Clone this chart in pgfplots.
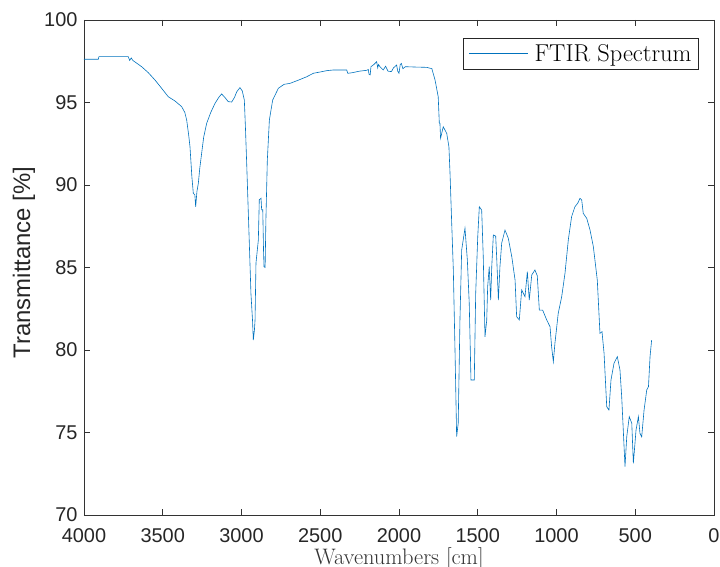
\documentclass[border=0pt]{standalone}
\usepackage{fontspec}
\newfontfamily\arial{Liberation Sans}
\usepackage{pgfplots}
\pgfplotsset{compat=1.18}
\definecolor{matblue}{rgb}{0,0.447,0.741}

\pgfplotstableread{
w T
4000 97.62
3909 97.62
3905 97.78
3719 97.78
3710 97.55
3700 97.70
3690 97.55
3634 97.17
3592 96.81
3549 96.36
3507 95.86
3465 95.35
3422 95.09
3380 94.75
3360 94.40
3348 93.94
3335 93.00
3327 92.32
3315 90.50
3306 89.50
3296 89.40
3291 88.68
3283 89.60
3274 90.10
3265 91.00
3253 91.92
3240 92.90
3221 93.74
3195 94.40
3168 94.95
3145 95.30
3126 95.52
3105 95.30
3084 95.05
3062 95.03
3045 95.30
3030 95.65
3010 95.90
2995 95.70
2982 95.15
2975 93.50
2967 91.31
2951 86.67
2940 83.43
2930 81.80
2925 80.60
2918 81.20
2914 81.80
2908 85.27
2893 86.67
2887 89.10
2876 89.20
2872 88.50
2865 88.50
2860 86.00
2857 85.05
2850 85.00
2845 87.90
2836 91.50
2823 93.94
2802 95.15
2766 95.86
2730 96.10
2692 96.16
2640 96.35
2586 96.56
2544 96.77
2500 96.85
2459 96.93
2417 96.97
2332 96.97
2325 96.77
2300 96.80
2250 96.90
2205 96.95
2195 97.00
2190 96.70
2183 96.67
2178 97.17
2160 97.30
2142 97.47
2135 97.10
2130 97.30
2121 97.17
2100 96.97
2085 97.20
2070 96.90
2048 96.87
2035 97.10
2015 97.27
2008 96.90
2000 96.77
1992 97.30
1985 97.37
1975 97.05
1960 97.17
1900 97.15
1824 97.13
1800 97.07
1792 97.07
1771 96.36
1751 95.35
1744 93.75
1740 93.74
1736 92.83
1719 93.53
1697 93.13
1683 92.32
1676 90.71
1666 87.88
1655 84.85
1644 79.80
1634 74.75
1624 75.56
1613 81.80
1602 86.06
1581 87.38
1566 85.45
1554 82.83
1543 78.18
1522 78.18
1513 83.43
1500 86.87
1490 88.68
1475 88.48
1465 85.66
1454 80.80
1443 81.80
1437 83.84
1427 85.05
1418 83.03
1411 85.05
1401 86.97
1386 86.90
1379 85.45
1369 83.03
1359 85.05
1348 86.47
1327 87.27
1306 86.77
1284 85.66
1263 84.24
1253 82.02
1236 81.82
1221 83.64
1200 83.23
1185 84.75
1173 83.03
1157 84.55
1137 84.85
1122 84.50
1109 82.42
1088 82.42
1062 81.82
1041 81.41
1031 80.20
1020 79.29
1010 80.40
989 82.22
967 83.23
946 84.65
925 86.67
904 88.08
883 88.68
865 88.90
851 89.19
840 89.10
830 88.28
808 87.98
787 87.27
766 86.26
741 84.24
724 81.01
711 81.11
698 79.80
681 76.56
667 76.36
654 78.18
635 79.19
614 79.60
597 78.79
586 77.17
576 75.15
565 72.93
554 74.74
538 75.96
522 75.56
512 73.13
495 75.15
480 75.96
470 74.95
459 74.74
444 76.36
427 77.58
416 77.78
406 79.60
396 80.60
}\ftir

\begin{document}
\begin{tikzpicture}
\begin{axis}[
  at={(0,0)}, anchor=south west,
  scale only axis,
  width=630bp, height=495bp,
  x dir=reverse,
  xmin=0, xmax=4000,
  ymin=70, ymax=100,
  xtick={0,500,...,4000},
  ytick={70,75,...,100},
  tick align=inside,
  major tick length=6bp,
  axis line style={black!80, line width=0.8bp},
  major tick style={black!80, line width=0.8bp},
  /pgf/number format/assume math mode=true,
  /pgf/number format/set thousands separator={},
  tick label style={font=\arial\fontsize{20}{20}\selectfont, text=black!85},
  xticklabel style={yshift=-11bp, inner sep=2bp},
  yticklabel style={xshift=-3bp},
  xlabel={Wavenumbers [cm]},
  xlabel style={at={(axis description cs:0.5,0)}, anchor=base, yshift=-49bp,
    inner sep=1bp, font=\fontsize{22.5}{22.5}\selectfont, text=black!80},
  ylabel={Transmittance [\%]},
  ylabel style={at={(axis description cs:-0.0952,0.51)}, anchor=center,
    font=\arial\fontsize{24}{24}\selectfont, text=black!85},
  legend style={at={(axis description cs:0.976,0.9636)}, anchor=north east,
    font=\fontsize{24.5}{24.5}\selectfont, draw=black!85, line width=0.8bp,
    inner xsep=5bp, inner ysep=4.2bp},
  legend image code/.code={\draw[#1, line width=0.8bp] (0bp,0bp) -- (59bp,0bp); \path (63bp,0bp);},
]
\addplot[matblue, line width=0.6bp] table[x=w, y=T] {\ftir};
\addlegendentry{FTIR Spectrum}
\end{axis}
\pgfresetboundingbox
\path[use as bounding box] (-84bp,-52bp) rectangle (636bp,515bp);
\end{tikzpicture}
\end{document}
